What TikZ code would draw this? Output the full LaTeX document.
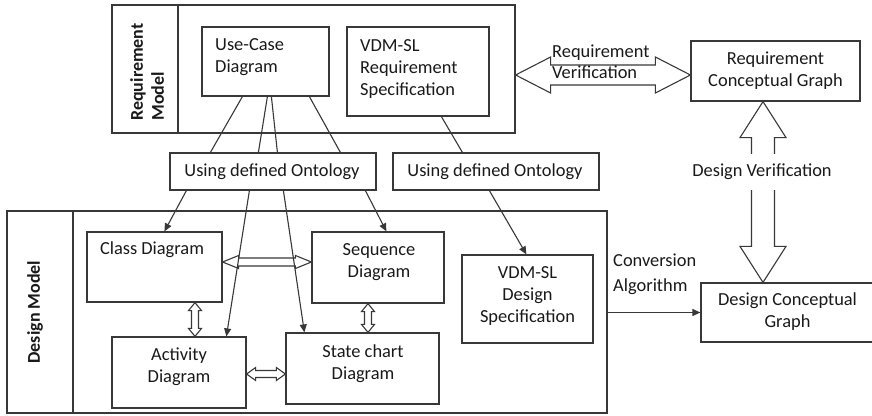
\documentclass[tikz,border=0pt]{standalone}
\usepackage{fontspec}
\setmainfont{Carlito}
\usetikzlibrary{arrows.meta,calc,fit}

% hollow double-headed block arrow, horizontal: #1 left tip, #2 right tip,
% #3 half shaft width, #4 half head width, #5 head length
\newcommand\blockH[5]{%
  \draw[blk] let \p1=(#1), \p2=(#2) in
    (\x1,\y1) -- (\x1+#5,\y1+#4) -- (\x1+#5,\y1+#3) -- (\x2-#5,\y1+#3)
    -- (\x2-#5,\y1+#4) -- (\x2,\y1) -- (\x2-#5,\y1-#4) -- (\x2-#5,\y1-#3)
    -- (\x1+#5,\y1-#3) -- (\x1+#5,\y1-#4) -- cycle;}
% the same, vertical: #1 top tip, #2 bottom tip
\newcommand\blockV[5]{%
  \draw[blk] let \p1=(#1), \p2=(#2) in
    (\x1,\y1) -- (\x1+#4,\y1-#5) -- (\x1+#3,\y1-#5) -- (\x1+#3,\y2+#5)
    -- (\x1+#4,\y2+#5) -- (\x1,\y2) -- (\x1-#4,\y2+#5) -- (\x1-#3,\y2+#5)
    -- (\x1-#3,\y1-#5) -- (\x1-#4,\y1-#5) -- cycle;}

\tikzset{
  box/.style={draw=black!78, line width=1.2pt, inner sep=0pt},
  lbl/.style={font=\fontsize{18.4}{22}\selectfont, text=black!90, inner sep=0pt},
  side/.style={lbl, font=\fontsize{18}{21}\selectfont\bfseries, rotate=90, align=left},
  conn/.style={draw=black!78, line width=1.1pt},
  arr/.style={conn, -{Triangle[length=8pt,width=7pt]}},
  blk/.style={draw=black!78, line width=1.1pt, fill=white, line join=miter},
}

\begin{document}
\begin{tikzpicture}[x=1pt,y=-1pt]
\useasboundingbox (0,0) rectangle (872,415);

% ---------- requirement model ----------
\node[box, fit={(112,5) (515,133)}] (reqmodel) {};
\coordinate (rmtop) at (178,5);
\coordinate (rmbot) at (178,133);
\draw[conn] (rmtop) -- (rmbot);
\node[side] (rmlabel) at (147,72) {Requirement\\Model};

\node[box, fit={(202,27) (329,96)}] (uc) {};
\node[lbl, align=left, anchor=west] (uctext) at (215,57) {Use-Case\\Diagram};

\node[box, fit={(347,27) (489,116)}] (vreq) {};
\node[lbl, align=left, anchor=west] (vreqtext) at (360,69) {VDM-SL\\Requirement\\Specification};

% ---------- ontology boxes ----------
\node[box, fit={(170,153) (376,190)}] (ont1) {};
\node[lbl] (ont1text) at (272,172) {Using defined Ontology};
\node[box, fit={(393,153) (599,190)}] (ont2) {};
\node[lbl] (ont2text) at (495,172) {Using defined Ontology};

% ---------- conceptual graphs ----------
\node[box, fit={(691,41) (860,101)}] (rcg) {};
\node[lbl, align=center] (rcgtext) at (775.5,71) {Requirement\\Conceptual Graph};
\node[box, fit={(701,283) (876,342)}] (dcg) {};
\node[lbl, align=center] (dcgtext) at (787.5,312) {Design Conceptual\\Graph};

% ---------- design model ----------
\node[box, fit={(7,211) (607,413)}] (dmodel) {};
\coordinate (dmtop) at (73,211);
\coordinate (dmbot) at (73,413);
\draw[conn] (dmtop) -- (dmbot);
\node[side] (dmlabel) at (35,312) {Design Model};

\node[box, fit={(87,232) (222,302)}] (cls) {};
\node[lbl] (clstext) at (152,250) {Class Diagram};
\node[box, fit={(312,232) (444,303)}] (seq) {};
\node[lbl, align=center] (seqtext) at (379,262) {Sequence\\Diagram};
\node[box, fit={(112,337) (246,408)}] (act) {};
\node[lbl, align=center] (acttext) at (179,367) {Activity\\Diagram};
\node[box, fit={(286,333) (439,404)}] (stc) {};
\node[lbl, align=center] (stctext) at (363,364) {State chart\\Diagram};
\node[box, fit={(462,255) (593,343)}] (vdes) {};
\node[lbl, align=center] (vdestext) at (527.5,296) {VDM-SL\\Design\\Specification};

% ---------- block arrows ----------
\blockH{$(reqmodel.east)+(0,6)$}{$(rcg.west)+(0,4)$}{10pt}{18pt}{35pt}
\node[lbl, align=left, anchor=west, font=\fontsize{18.4}{21}\selectfont] (rvtext) at (552,62) {Requirement\\Verification};

\blockV{$(rcg.south)+(-12.5,0)$}{dcg.north}{11.5pt}{23pt}{36pt}
\node[lbl, fill=white, inner xsep=2pt, inner ysep=10pt] (dvtext) at (762,172) {Design Verification};

\blockH{$(cls.east)+(0,-5)$}{seq.west}{4pt}{6.5pt}{16pt}
\blockV{$(cls.south)+(40.5,0)$}{act.north}{3.5pt}{6.5pt}{8pt}
\blockV{$(seq.south)+(-10,0)$}{stc.north}{3.5pt}{6.5pt}{8pt}
\blockH{$(act.east)+(0,1.5)$}{stc.west}{3.5pt}{6.5pt}{9pt}

% ---------- connectors ----------
\draw[conn] ($(uc.south west)+(41,0)$) -- ($(ont1.north west)+(41,0)$);
\draw[conn] ($(uc.south west)+(66,0)$) -- ($(ont1.north west)+(89,0)$);
\draw[conn] ($(uc.south west)+(70,0)$) -- ($(ont1.north west)+(108,0)$);
\draw[conn] ($(uc.south west)+(108,0)$) -- ($(ont1.north west)+(171,0)$);
\draw[conn] ($(vreq.south west)+(95,0)$) -- ($(ont2.north west)+(70,0)$);

\draw[arr] ($(ont1.south west)+(17,0)$) -- ($(cls.north west)+(78,0)$);
\draw[arr] ($(ont1.south west)+(80,0)$) -- ($(act.north west)+(115,0)$);
\draw[arr] ($(ont1.south west)+(114,0)$) -- ($(stc.north west)+(19,0)$);
\draw[arr] ($(ont1.south west)+(196,0)$) -- ($(seq.north west)+(75,0)$);
\draw[arr] ($(ont2.south west)+(97,0)$) -- ($(vdes.north west)+(65,0)$);

\draw[arr] (dmodel.east |- dcg.west) -- (dcg.west);
\node[lbl, align=left, anchor=west, font=\fontsize{18.4}{25}\selectfont] (convtext) at (613,274) {Conversion\\Algorithm};
\end{tikzpicture}
\end{document}
